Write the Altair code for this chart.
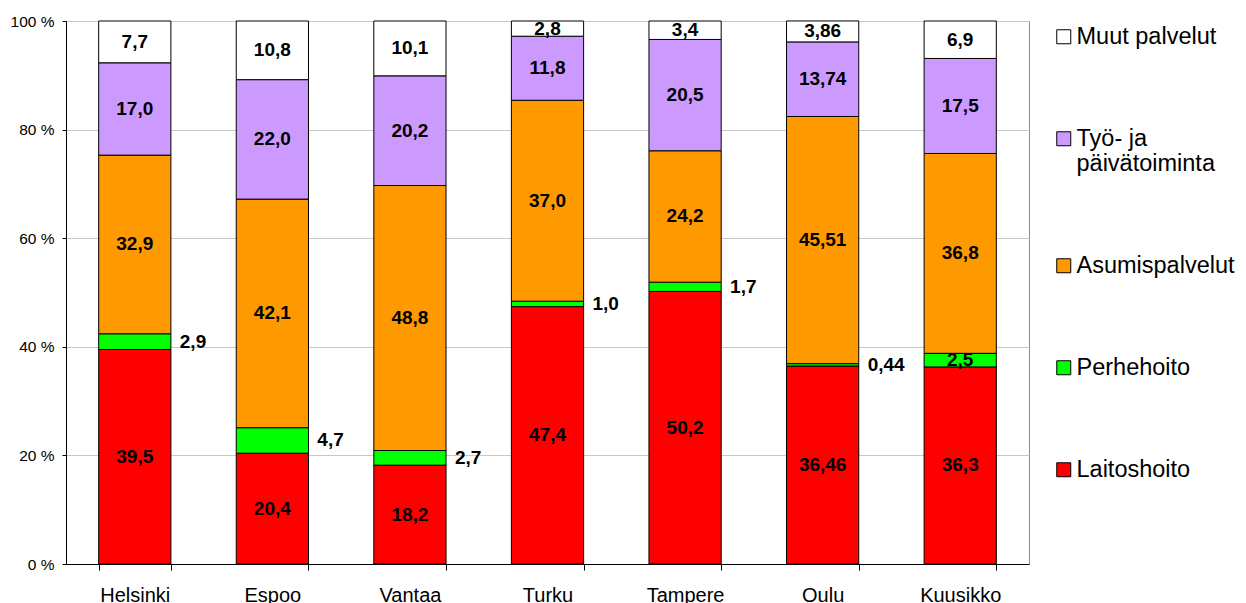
import altair as alt
import pandas as pd

cities = ["Helsinki", "Espoo", "Vantaa", "Turku", "Tampere", "Oulu", "Kuusikko"]
# categories from bottom of the stack to top
categories = ["Laitoshoito", "Perhehoito", "Asumispalvelut", "Työ- ja päivätoiminta", "Muut palvelut"]
laitoshoito = [39.5, 20.4, 18.2, 47.4, 50.2, 36.46, 36.3]
perhehoito = [2.9, 4.7, 2.7, 1.0, 1.7, 0.44, 2.5]
asumispalvelut = [32.9, 42.1, 48.8, 37.0, 24.2, 45.51, 36.8]
tyo_paivatoiminta = [17.0, 22.0, 20.2, 11.8, 20.5, 13.74, 17.5]
muut_palvelut = [7.7, 10.8, 10.1, 2.8, 3.4, 3.86, 6.9]
colors = ["#FF0000", "#00FF00", "#FF9900", "#CC99FF", "#FFFFFF"]
outside_label_cities = ["Helsinki", "Espoo", "Vantaa", "Turku", "Tampere", "Oulu"]
y_ticks = [0, 20, 40, 60, 80, 100]

series = [laitoshoito, perhehoito, asumispalvelut, tyo_paivatoiminta, muut_palvelut]
rows = []
for i, city in enumerate(cities):
    base = 0.0
    for cat, vals in zip(categories, series):
        v = vals[i]
        outside = cat == "Perhehoito" and city in outside_label_cities
        rows.append({
            "city": city,
            "category": cat,
            "value": v,
            "start": base,
            "end": base + v,
            "mid": base + v / 2,
            "label": str(v).replace(".", ","),
            "outside": outside,
        })
        base += v
df = pd.DataFrame(rows)

FONT = "Liberation Sans"

x_enc = alt.X(
    "city:N",
    sort=cities,
    title=None,
    scale=alt.Scale(paddingInner=0.475, paddingOuter=0.2375),
    axis=alt.Axis(
        labelAngle=0, labelFontSize=20, labelColor="black", labelPadding=15,
        tickBand="extent", tickSize=6, tickColor="black", domainColor="black",
        grid=False, labelFont=FONT,
    ),
)

base = alt.Chart(df)

bars = base.mark_bar(stroke="black", strokeWidth=1).encode(
    x=x_enc,
    y=alt.Y(
        "start:Q",
        title=None,
        scale=alt.Scale(domain=[0, 100], nice=False),
        axis=alt.Axis(
            values=y_ticks, labelExpr="datum.value + ' %'", labelFontSize=15.5,
            labelColor="black", labelPadding=8, tickSize=4, tickColor="black",
            domainColor="black", gridColor="#c8c8c8", grid=True, labelFont=FONT,
        ),
    ),
    y2="end:Q",
    color=alt.Color(
        "category:N",
        scale=alt.Scale(domain=categories[::-1], range=colors[::-1]),
        legend=alt.Legend(
            title=None,
            orient="none",
            legendX=986,
            legendY=4,
            rowPadding=77,
            labelFontSize=23.5,
            labelFont=FONT,
            labelColor="black",
            labelOffset=1,
            labelLimit=400,
            symbolType="square",
            symbolSize=196,
            symbolStrokeColor="black",
            symbolStrokeWidth=1,
            symbolOpacity=1,
            padding=0,
            labelExpr="datum.label == 'Työ- ja päivätoiminta' ? ['Työ- ja', 'päivätoiminta'] : datum.label",
        ),
    ),
)

inner_text = base.transform_filter("!datum.outside").mark_text(
    fontSize=19, fontWeight="bold", font=FONT, color="black", baseline="middle", align="center"
).encode(
    x=alt.X("city:N", sort=cities),
    y=alt.Y("mid:Q"),
    text="label:N",
)

outer_text = base.transform_filter("datum.outside").mark_text(
    fontSize=19, fontWeight="bold", font=FONT, color="black", baseline="middle", align="left", dx=45
).encode(
    x=alt.X("city:N", sort=cities),
    y=alt.Y("mid:Q"),
    text="label:N",
)

chart = alt.layer(bars, inner_text, outer_text).properties(
    width=963,
    height=543,
    autosize=alt.AutoSizeParams(type="none"),
    padding={"left": 58, "top": 13, "right": 209, "bottom": 45},
).configure(font=FONT).configure_view(stroke="#8c8c8c", strokeWidth=1)

chart.save("out.html", embed_options={"renderer": "svg", "actions": False})
